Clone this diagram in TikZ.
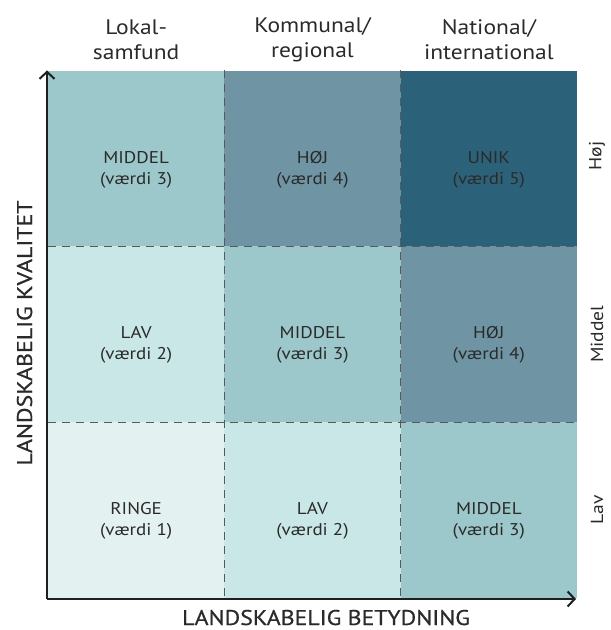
\documentclass[tikz,border=0pt]{standalone}
\usepackage{fontspec}
\setmainfont{PT Sans}[FakeStretch=1.12]
\usetikzlibrary{arrows.meta}
\definecolor{cdark}{HTML}{2C6279}
\definecolor{cmid}{HTML}{6F94A4}
\definecolor{clight}{HTML}{9DC8CB}
\definecolor{clighter}{HTML}{C9E7E6}
\definecolor{clightest}{HTML}{E3F2F0}
\definecolor{ctext}{HTML}{2A2A2A}
\tikzset{
  cell/.style={rectangle, inner sep=0pt, minimum width=176.33pt, minimum height=175.67pt},
  lbl/.style={align=center, text=ctext, inner sep=0pt, font=\fontsize{17}{21}\selectfont},
  grid/.style={draw=black!65, line width=1.1pt, dash pattern=on 8pt off 6pt},
  axis/.style={draw=black!88, line width=2pt, -{Straight Barb[length=7pt,width=15pt,line width=2pt]}},
  head/.style={align=center, text=ctext, font=\fontsize{21}{25}\selectfont},
  side/.style={rotate=90, text=ctext, font=\fontsize{17.5}{20}\selectfont},
  axlabel/.style={text=ctext, inner sep=0pt, font=\fontsize{21.3}{25}\selectfont\addfontfeatures{FakeBold=0.6}},
}
\begin{document}
\begin{tikzpicture}[x=1pt,y=1pt]
\useasboundingbox (0,0) rectangle (611,630);
% cells (tikz y = 630 - image y)
\node[cell, fill=clight]    (c13) at (136.17,471.5) {};
\node[cell, fill=cmid]      (c23) at (312.5,471.5) {};
\node[cell, fill=cdark]     (c33) at (488.83,471.5) {};
\node[cell, fill=clighter]  (c12) at (136.17,295.83) {};
\node[cell, fill=clight]    (c22) at (312.5,295.83) {};
\node[cell, fill=cmid]      (c32) at (488.83,295.83) {};
\node[cell, fill=clightest] (c11) at (136.17,120.17) {};
\node[cell, fill=clighter]  (c21) at (312.5,120.17) {};
\node[cell, fill=clight]    (c31) at (488.83,120.17) {};
% cell texts
\node[lbl] (t13) at ([yshift=-11pt]c13.center) {MIDDEL\\(værdi 3)};
\node[lbl] (t23) at ([yshift=-11pt]c23.center) {HØJ\\(værdi 4)};
\node[lbl] (t33) at ([yshift=-11pt]c33.center) {UNIK\\(værdi 5)};
\node[lbl] (t12) at ([yshift=-11pt]c12.center) {LAV\\(værdi 2)};
\node[lbl] (t22) at ([yshift=-11pt]c22.center) {MIDDEL\\(værdi 3)};
\node[lbl] (t32) at ([yshift=-11pt]c32.center) {HØJ\\(værdi 4)};
\node[lbl] (t11) at ([yshift=-11pt]c11.center) {RINGE\\(værdi 1)};
\node[lbl] (t21) at ([yshift=-11pt]c21.center) {LAV\\(værdi 2)};
\node[lbl] (t31) at ([yshift=-11pt]c31.center) {MIDDEL\\(værdi 3)};
% dashed grid lines
\draw[grid] (c13.north east) -- (c11.south east);
\draw[grid] (c23.north east) -- (c21.south east);
\draw[grid] (c13.south west) -- (c33.south east);
\draw[grid] (c12.south west) -- (c32.south east);
% axes
\coordinate (origin) at (47,31);
\coordinate (ytip) at (47,559.5);
\coordinate (xtip) at (576,31);
\draw[axis] (origin) -- (ytip);
\draw[axis] (origin) -- (xtip);
% column headings
\node[head] (h1) at (136.17,590) {Lokal-\\samfund};
\node[head] (h2) at (312.5,590) {Kommunal/\\regional};
\node[head] (h3) at (488.83,590) {National/\\international};
% row labels
\node[side] (r3) at (597,474) {Høj};
\node[side] (r2) at (597,295.83) {Middel};
\node[side] (r1) at (597,120.17) {Lav};
% axis labels
\node[axlabel, anchor=base] (xl) at (326,5) {LANDSKABELIG BETYDNING};
\node[axlabel, rotate=90, anchor=base] (yl) at (32,297) {LANDSKABELIG KVALITET};
\end{tikzpicture}
\end{document}
